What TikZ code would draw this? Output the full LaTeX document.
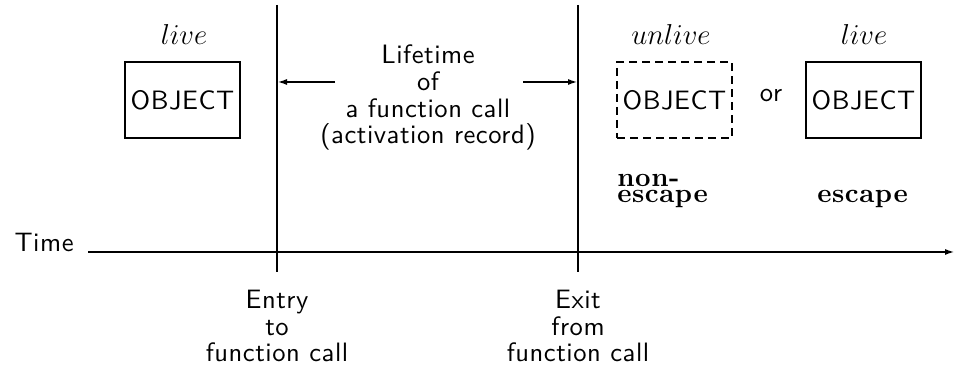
\documentclass[tikz,border=0pt]{standalone}
\usepackage{fontspec}
\setsansfont{lmsans10-regular.otf}[LetterSpace=2]
\newfontfamily\boldserif{lmroman10-bold.otf}[LetterSpace=2]
\usetikzlibrary{arrows.meta}

\begin{document}
\begin{tikzpicture}[x=0.5pt,y=-0.5pt,
    every node/.style={font=\sffamily\fontsize{13.3}{13.4}\selectfont,inner sep=0pt},
    objbox/.style={draw,line width=1pt,minimum width=57.5pt,minimum height=38pt},
    tip/.style={-{Latex[length=5pt,width=3pt]}}]
    %%%%% START %%%%%
    \def\xentry{277}
    \def\xexit{578}
    \def\ytime{252}
    \def\ytop{5}
    \def\ybot{272}
    \def\yobj{100}
    \def\ylive{45}
    \def\yarr{82}
    \def\width{1pt}

    \useasboundingbox (0,0) rectangle (955,373);

    % time axis
    \node[anchor=base east] (time) at (74,\ytime) {Time};
    \coordinate (tstart) at (88,\ytime);
    \coordinate (tend) at (955,\ytime);
    \draw[tip,line width=\width] (tstart) -- (tend);

    % entry and exit
    \coordinate (entrytop) at (\xentry,\ytop);
    \coordinate (entrybot) at (\xentry,\ybot);
    \coordinate (exittop) at (\xexit,\ytop);
    \coordinate (exitbot) at (\xexit,\ybot);
    \draw[line width=\width] (entrytop) -- (entrybot);
    \draw[line width=\width] (exittop) -- (exitbot);

    \node[align=center,anchor=base] (entry) at (\xentry,362) {Entry\\to\\function call};
    \node[align=center,anchor=base] (exit) at (\xexit,362) {Exit\\from\\function call};

    % lifetime
    \node[align=center,anchor=base] (life) at (428,144) {Lifetime\\of\\a function call\\(activation record)};
    \coordinate (lifel) at (335,\yarr);
    \coordinate (lifer) at (523,\yarr);
    \draw[tip,line width=\width] (lifel) -- (lifel -| entrytop);
    \draw[tip,line width=\width] (lifer) -- (lifer -| exittop);

    % objects
    \node[objbox] (objone) at (182.5,\yobj) {OBJECT};
    \node[objbox,dash pattern=on 4pt off 2.5pt] (objtwo) at (674.5,\yobj) {OBJECT};
    \node[objbox] (objthree) at (863.5,\yobj) {OBJECT};
    \node[anchor=base] (or) at (771,102) {or};

    \node[anchor=base] (liveone) at (184,\ylive) {$live$};
    \node[anchor=base] (unlive) at (671,\ylive) {$unlive$};
    \node[anchor=base] (livetwo) at (864,\ylive) {$live$};

    \node[align=left,anchor=base west,font=\boldserif\fontsize{13.5}{8}\selectfont] (nonesc) at (617,203) {non-\\escape};
    \node[anchor=base west,font=\boldserif\fontsize{13.5}{8}\selectfont] (esc) at (817,203) {escape};
    %%%%% END %%%%%
\end{tikzpicture}
\end{document}
